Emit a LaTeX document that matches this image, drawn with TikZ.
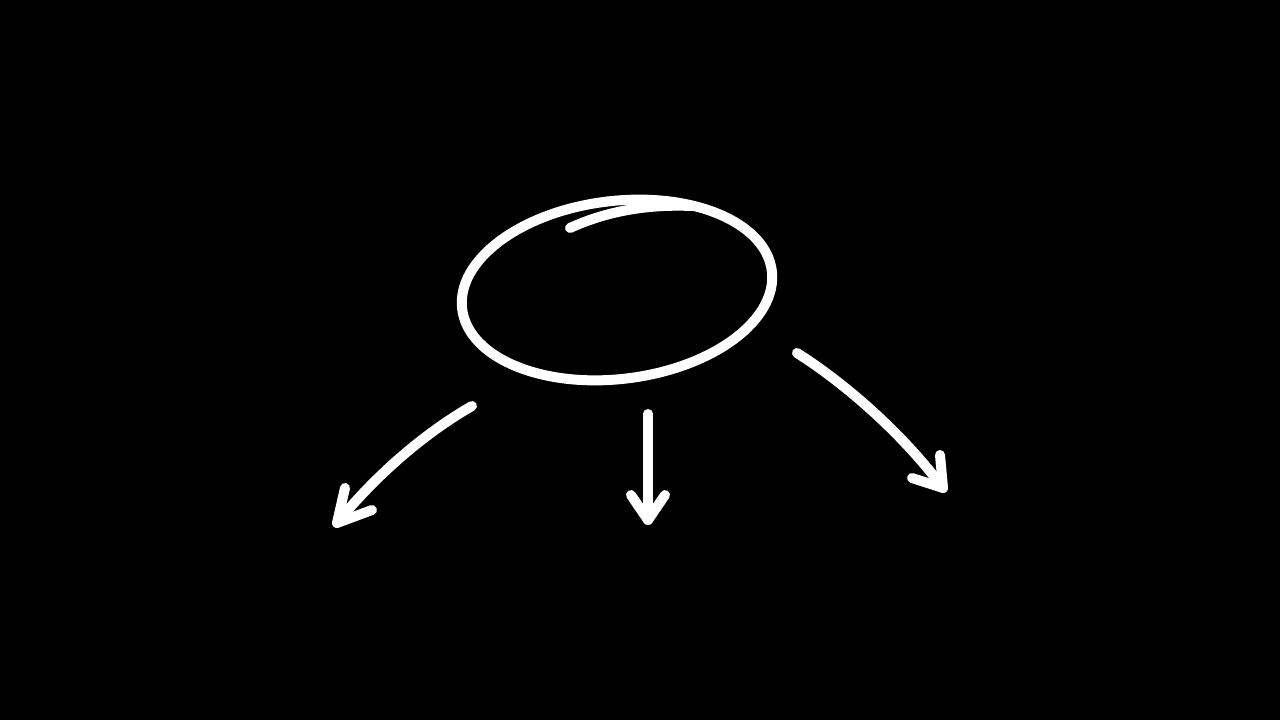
\documentclass[tikz,border=0pt]{standalone}
\begin{document}
\begin{tikzpicture}[x=1pt,y=1pt,
  chalk/.style={draw=white,line width=10pt,line cap=round,line join=round}]
\fill[black] (0,0) rectangle (1280,720);
\useasboundingbox (0,0) rectangle (1280,720);
% oval
\coordinate (c) at (617,430);
\draw[chalk] (c) ellipse [x radius=156, y radius=89, rotate=7];
\draw[chalk] (570,492) .. controls (605,508) and (645,516) .. (692,514);
% left arrow
\coordinate (l1) at (472,314);
\coordinate (l2) at (337,197);
\draw[chalk] (l1) .. controls (430,290) and (380,250) .. (l2);
\draw[chalk] (345,232) -- (l2) -- (372,210);
% middle arrow
\coordinate (m1) at (648,306);
\coordinate (m2) at (648,200);
\draw[chalk] (m1) -- (m2);
\draw[chalk] (631,225) -- (m2) -- (665,225);
% right arrow
\coordinate (r1) at (797,367);
\coordinate (r2) at (943,232);
\draw[chalk] (r1) .. controls (840,340) and (900,290) .. (r2);
\draw[chalk] (940,265) -- (r2) -- (912,242);
\end{tikzpicture}
\end{document}
